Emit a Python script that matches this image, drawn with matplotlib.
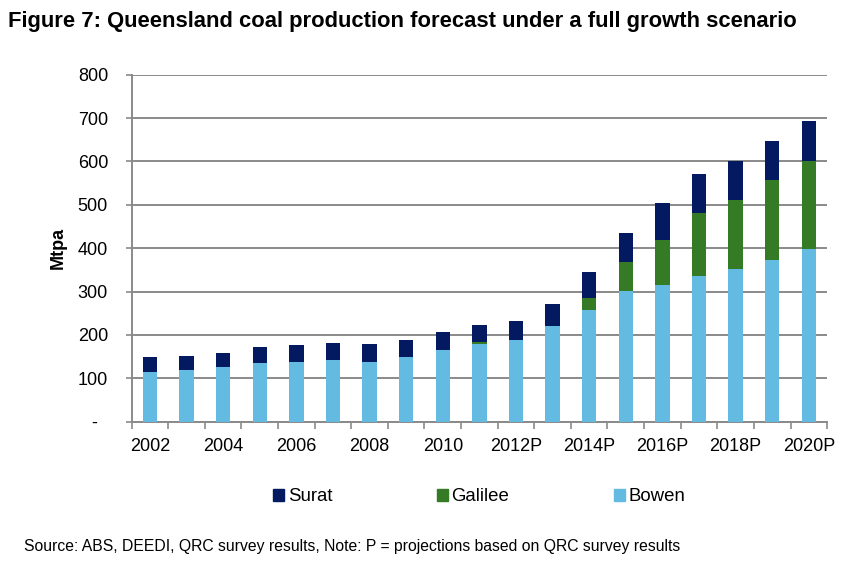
import numpy as np
import matplotlib.pyplot as plt
from matplotlib.patches import Patch

plt.rcParams['font.family'] = ['Liberation Sans', 'DejaVu Sans']

# Years (P = projection)
years = ['2002', '2003', '2004', '2005', '2006', '2007', '2008', '2009', '2010',
         '2011', '2012P', '2013P', '2014P', '2015P', '2016P', '2017P', '2018P',
         '2019P', '2020P']

# Production by basin, Mtpa
bowen = [115, 118, 125, 135, 138, 142, 138, 149, 166,
         180, 189, 220, 258, 301, 315, 335, 352, 372, 399]
galilee = [0, 0, 0, 0, 0, 0, 0, 0, 0,
           3, 0, 0, 26, 67, 104, 145, 158, 186, 203]
surat = [34, 34, 33, 38, 38, 40, 41, 40, 40,
         41, 44, 51, 61, 68, 85, 92, 92, 90, 91]

c_bowen = '#63BBE1'
c_galilee = '#357A24'
c_surat = '#041A60'

fig = plt.figure(figsize=(8.65, 5.66), dpi=100)
ax = fig.add_axes([0.1522, 0.255, 0.804, 0.613])

x = np.arange(len(years))
bowen = np.array(bowen)
galilee = np.array(galilee)
surat = np.array(surat)
w = 0.39

ax.bar(x, bowen, w, color=c_bowen, zorder=3)
ax.bar(x, galilee, w, bottom=bowen, color=c_galilee, zorder=3)
ax.bar(x, surat, w, bottom=bowen + galilee, color=c_surat, zorder=3)

ax.set_xlim(-0.5, len(years) - 0.5)
ax.set_ylim(0, 800)
ax.set_yticks(np.arange(0, 801, 100))
ax.set_yticklabels(['-  '] + [str(v) for v in range(100, 801, 100)], fontsize=13)
ax.yaxis.grid(True, color='#8a8a8a', linewidth=1.4, zorder=0)

# category boundary ticks, labels every other year
ax.set_xticks(np.arange(-0.5, len(years), 1.0))
ax.set_xticklabels([])
ax.set_xticks(x[::2], minor=True)
ax.set_xticklabels(years[::2], minor=True, fontsize=13)
ax.tick_params(axis='x', which='major', length=5, color='#8a8a8a', width=1.2)
ax.tick_params(axis='x', which='minor', length=0, pad=12)
ax.tick_params(axis='y', length=4, color='#8a8a8a', width=1.2, pad=13)

for s in ['top', 'right']:
    ax.spines[s].set_visible(False)
for s in ['left', 'bottom']:
    ax.spines[s].set_color('#8a8a8a')
    ax.spines[s].set_linewidth(1.4)

ax.set_ylabel('Mtpa', fontsize=13, fontweight='bold', labelpad=8)

handles = [Patch(color=c_surat, label='Surat'),
           Patch(color=c_galilee, label='Galilee'),
           Patch(color=c_bowen, label='Bowen')]
fig.legend(handles=handles, loc='center', bbox_to_anchor=(0.554, 0.122), ncol=3,
           frameon=False, fontsize=13.4, handlelength=0.6, handleheight=0.6,
           handletextpad=0.2, columnspacing=5.6, borderpad=0, borderaxespad=0)

fig.text(0.009, 0.962, 'Figure 7: Queensland coal production forecast under a full growth scenario',
         fontsize=15.8, fontweight='bold', va='center')
fig.text(0.028, 0.034, 'Source: ABS, DEEDI, QRC survey results, Note: P = projections based on QRC survey results',
         fontsize=11.3, va='center')

fig.savefig('out.png', dpi=100)
